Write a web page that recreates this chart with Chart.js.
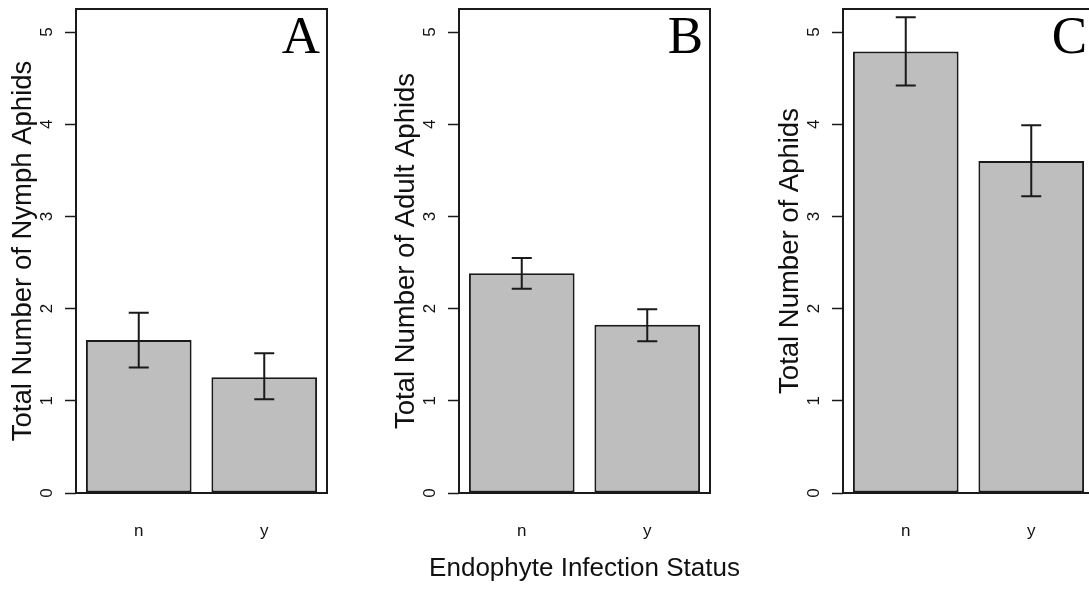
<!DOCTYPE html>
<html>
<head>
<meta charset="utf-8">
<script src="https://cdn.jsdelivr.net/npm/chart.js@4"></script>
<style>
  html, body { margin: 0; padding: 0; background: #fff; overflow: hidden; width: 1089px; height: 590px; }
  canvas { position: absolute; top: 0; }
  #panelA { left: 0; }
  #panelB { left: 383px; }
  #panelC { left: 767px; }
</style>
</head>
<body>
<canvas id="panelA" width="384" height="590"></canvas>
<canvas id="panelB" width="384" height="590"></canvas>
<canvas id="panelC" width="384" height="590"></canvas>
<script>
// data
const categories = ['n', 'y'];

const nymphMeans = [1.66, 1.255];
const nymphLower = [1.36, 1.016];
const nymphUpper = [1.955, 1.515];

const adultMeans = [2.383, 1.825];
const adultLower = [2.216, 1.645];
const adultUpper = [2.549, 1.992];

const totalMeans = [4.79, 3.60];
const totalLower = [4.42, 3.22];
const totalUpper = [5.16, 3.99];

const yMin = 0;
const yMax = 5.25;
const yStep = 1;

const xTitle = 'Endophyte Infection Status';

const SANS = '"Liberation Sans", Arial, sans-serif';
const SERIF = '"Liberation Serif", "Times New Roman", serif';
const INK = '#1a1a1a';

// box around the plot region, panel letter and (optionally) the shared x title
const boxPlugin = {
    id: 'boxPlugin',
    afterDraw(chart, args, opts) {
        const { ctx, chartArea: a } = chart;
        ctx.save();
        ctx.strokeStyle = INK;
        ctx.lineWidth = 2;
        ctx.strokeRect(a.left, a.top, a.right - a.left, a.bottom - a.top);
        ctx.fillStyle = '#000';
        ctx.font = '53px ' + SERIF;
        ctx.textAlign = 'right';
        ctx.textBaseline = 'alphabetic';
        ctx.fillText(opts.letter, a.right - 7, a.top + 44);
        if (opts.xTitle) {
            ctx.fillStyle = '#111';
            ctx.font = '26px ' + SANS;
            ctx.textAlign = 'center';
            ctx.fillText(opts.xTitle, (a.left + a.right) / 2, 576);
        }
        ctx.restore();
    }
};

// error bars from lower/upper arrays
const errorBarPlugin = {
    id: 'errorBars',
    afterDatasetsDraw(chart, args, opts) {
        const { ctx } = chart;
        const y = chart.scales.y;
        const meta = chart.getDatasetMeta(0);
        ctx.save();
        ctx.strokeStyle = INK;
        ctx.lineWidth = 2;
        meta.data.forEach((bar, i) => {
            const yl = y.getPixelForValue(opts.lower[i]);
            const yu = y.getPixelForValue(opts.upper[i]);
            const half = 10;
            ctx.beginPath();
            ctx.moveTo(bar.x, yl);
            ctx.lineTo(bar.x, yu);
            ctx.moveTo(bar.x - half, yu);
            ctx.lineTo(bar.x + half, yu);
            ctx.moveTo(bar.x - half, yl);
            ctx.lineTo(bar.x + half, yl);
            ctx.stroke();
        });
        ctx.restore();
    }
};

function makePanel(id, means, lower, upper, yTitle, letter, showXTitle) {
    const ctx = document.getElementById(id).getContext('2d');
    return new Chart(ctx, {
        type: 'bar',
        data: {
            labels: categories,
            datasets: [{
                data: means,
                backgroundColor: '#bebebe',
                borderColor: INK,
                borderWidth: 2,
                borderSkipped: false,
                barPercentage: 0.842,
                categoryPercentage: 1
            }]
        },
        options: {
            responsive: false,
            animation: false,
            devicePixelRatio: 1,
            layout: { padding: { top: 9, right: 57, left: 0, bottom: 0 } },
            scales: {
                x: {
                    grid: { display: false },
                    border: { display: false },
                    ticks: {
                        color: '#111',
                        padding: 20,
                        font: { family: SANS, size: 17 }
                    },
                    afterFit(scale) {
                        scale.height = 97;
                        scale.paddingLeft = 0;
                        scale.paddingRight = 0;
                    }
                },
                y: {
                    min: yMin,
                    max: yMax,
                    grid: {
                        drawOnChartArea: false,
                        drawTicks: true,
                        tickLength: 11,
                        tickColor: INK,
                        tickWidth: 1.5
                    },
                    border: { display: false },
                    ticks: {
                        stepSize: yStep,
                        includeBounds: false,
                        minRotation: 90,
                        maxRotation: 90,
                        crossAlign: 'center',
                        padding: 13,
                        color: '#111',
                        font: { family: SANS, size: 17 }
                    },
                    title: {
                        display: true,
                        text: yTitle,
                        color: '#111',
                        padding: { top: 7, bottom: 0 },
                        font: { family: SANS, size: 27.5 }
                    },
                    afterFit(scale) {
                        scale.width = 76;
                        scale.paddingTop = 0;
                        scale.paddingBottom = 0;
                    }
                }
            },
            plugins: {
                legend: { display: false },
                tooltip: { enabled: false },
                boxPlugin: { letter: letter, xTitle: showXTitle ? xTitle : null },
                errorBars: { lower: lower, upper: upper }
            }
        },
        plugins: [errorBarPlugin, boxPlugin]
    });
}

makePanel('panelA', nymphMeans, nymphLower, nymphUpper, 'Total Number of Nymph Aphids', 'A', false);
makePanel('panelB', adultMeans, adultLower, adultUpper, 'Total Number of Adult Aphids', 'B', true);
makePanel('panelC', totalMeans, totalLower, totalUpper, 'Total Number of Aphids', 'C', false);
</script>
</body>
</html>
